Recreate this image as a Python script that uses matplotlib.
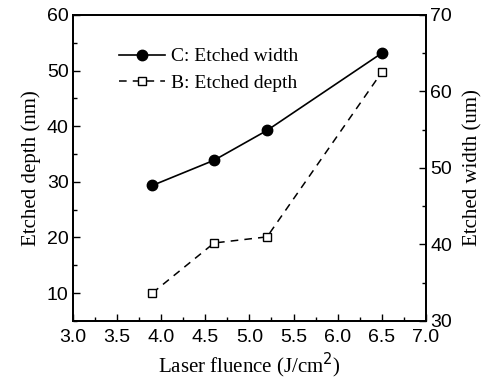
import matplotlib
matplotlib.use("Agg")
import matplotlib.pyplot as plt
from matplotlib.ticker import MultipleLocator

# data
fluence = [3.9, 4.6, 5.2, 6.5]
etched_width = [47.7, 51.0, 54.9, 65.0]   # um, right axis
etched_depth = [10.0, 19.0, 20.1, 49.7]   # nm, left axis

tick_font = ['Liberation Sans Narrow', 'Liberation Sans', 'DejaVu Sans']
label_font = ['Liberation Serif', 'DejaVu Serif']

fig = plt.figure(figsize=(4.89, 3.82), dpi=100)
ax = fig.add_axes([0.149, 0.160, 0.722, 0.801])
ax2 = ax.twinx()

line_d, = ax.plot(fluence, etched_depth, color='black', linestyle=(0, (5, 4)), linewidth=1.1,
                  marker='s', markersize=6, markerfacecolor='white', markeredgecolor='black',
                  markeredgewidth=1.0, label='B: Etched depth')
line_w, = ax2.plot(fluence, etched_width, color='black', linestyle='-', linewidth=1.2,
                   marker='o', markersize=7.5, markerfacecolor='black',
                   label='C: Etched width')

ax.set_xlim(3.0, 7.0)
ax.set_ylim(5, 60)
ax2.set_ylim(30, 70)

ax.xaxis.set_major_locator(MultipleLocator(0.5))
ax.xaxis.set_minor_locator(MultipleLocator(0.25))
ax.yaxis.set_major_locator(MultipleLocator(10))
ax.yaxis.set_minor_locator(MultipleLocator(5))
ax2.yaxis.set_major_locator(MultipleLocator(10))
ax2.yaxis.set_minor_locator(MultipleLocator(5))

ax.tick_params(axis='x', which='major', direction='in', length=5, width=1.0, top=False, pad=6)
ax.tick_params(axis='y', which='major', direction='in', length=5, width=1.0, pad=3)
ax.tick_params(axis='both', which='minor', direction='in', length=3, width=1.0, top=False)
ax2.tick_params(axis='y', which='major', direction='in', length=5, width=1.0, pad=3)
ax2.tick_params(axis='y', which='minor', direction='in', length=3, width=1.0)

for a in (ax, ax2):
    for s in a.spines.values():
        s.set_linewidth(1.3)
    for lab in a.get_xticklabels() + a.get_yticklabels():
        lab.set_family(tick_font)
        lab.set_fontsize(14)

ax.set_xlabel('Laser fluence (J/cm$^2$)', family=label_font, fontsize=15, labelpad=3)
ax.set_ylabel('Etched depth (nm)', family=label_font, fontsize=15, labelpad=4)
ax2.set_ylabel('Etched width (um)', family=label_font, fontsize=15, labelpad=8)

leg = ax.legend([line_w, line_d], ['C: Etched width', 'B: Etched depth'],
                loc='upper left', bbox_to_anchor=(0.08, 0.95), frameon=False,
                prop={'family': label_font, 'size': 14}, handlelength=2.4,
                handletextpad=0.3, labelspacing=0.45)

fig.savefig('out.png', dpi=100)
